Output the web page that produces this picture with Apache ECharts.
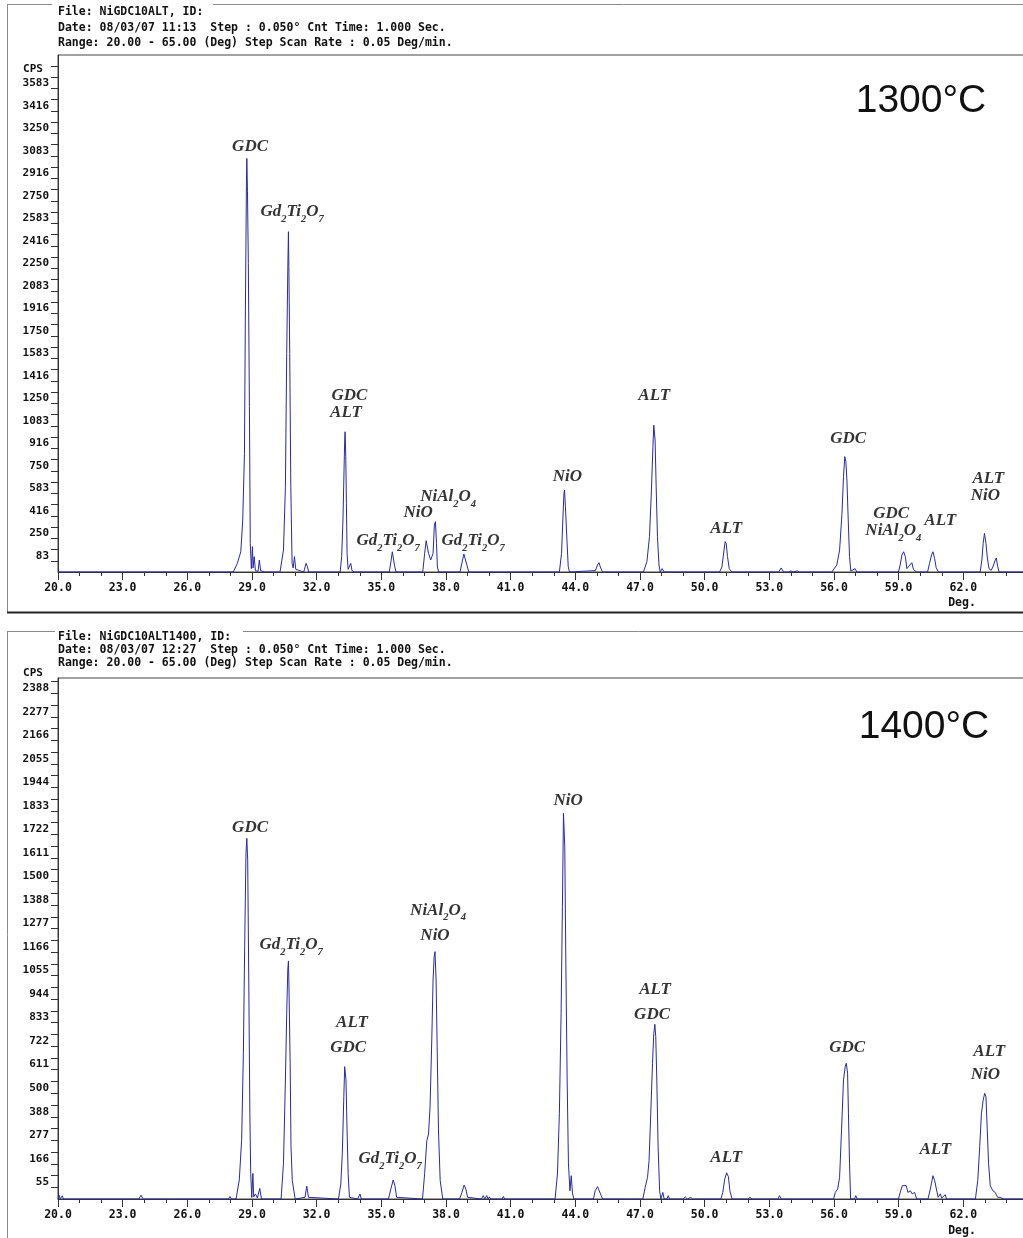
<!DOCTYPE html>
<html><head><meta charset="utf-8">
<script src="https://cdn.jsdelivr.net/npm/echarts@6/dist/echarts.min.js"></script>
<style>html,body{margin:0;padding:0;background:#fff;overflow:hidden}#c{width:1034px;height:1238px}</style>
</head><body><div id="c"></div><script>
// ---------- data ----------
const X_MIN = 20, X_MAX = 65;
const xTicks = [20, 23, 26, 29, 32, 35, 38, 41, 44, 47, 50, 53, 56, 59, 62];
const yTicks1300 = [83, 250, 416, 583, 750, 916, 1083, 1250, 1416, 1583, 1750, 1916, 2083, 2250, 2416, 2583, 2750, 2916, 3083, 3250, 3416, 3583];
const yTicks1400 = [55, 166, 277, 388, 500, 611, 722, 833, 944, 1055, 1166, 1277, 1388, 1500, 1611, 1722, 1833, 1944, 2055, 2166, 2277, 2388];
const yMax1300 = 3830, yMax1400 = 2460;

const header1300 = ['File: NiGDC10ALT, ID:', 'Date: 08/03/07 11:13  Step : 0.050\u00b0 Cnt Time: 1.000 Sec.', 'Range: 20.00 - 65.00 (Deg) Step Scan Rate : 0.05 Deg/min.'];
const header1400 = ['File: NiGDC10ALT1400, ID:', 'Date: 08/03/07 12:27  Step : 0.050\u00b0 Cnt Time: 1.000 Sec.', 'Range: 20.00 - 65.00 (Deg) Step Scan Rate : 0.05 Deg/min.'];
const yName = 'CPS', xName = 'Deg.';
const temp1300 = '1300\u00b0C', temp1400 = '1400\u00b0C';

// [2theta (deg), counts (CPS)]
const pattern1300 = [
[20.0,0],[28.13,0],[28.32,64],[28.48,150],[28.57,385],[28.65,879],[28.69,1867],[28.74,2854],[28.76,3064],[28.79,2817],[28.83,2286],[28.88,1225],[28.92,212],[28.97,25],[29.02,188],[29.05,30],[29.10,114],[29.16,10],[29.28,5],[29.34,89],[29.40,10],[29.6,0],
[30.30,0],[30.46,163],[30.55,632],[30.61,1620],[30.66,2237],[30.69,2521],[30.71,2262],[30.75,1620],[30.80,632],[30.86,64],[30.91,30],[30.97,114],[31.03,20],[31.40,0],[31.51,64],[31.57,40],[31.63,0],
[33.09,0],[33.16,114],[33.22,385],[33.27,756],[33.30,978],[33.32,1039],[33.35,854],[33.38,509],[33.41,138],[33.46,20],[33.58,64],[33.64,10],[33.75,0],
[35.37,0],[35.45,82],[35.51,150],[35.54,138],[35.61,50],[35.68,0],
[36.92,0],[37.01,138],[37.08,232],[37.13,225],[37.19,138],[37.29,89],[37.40,138],[37.46,348],[37.51,373],[37.56,212],[37.60,37],[37.66,0],
[38.65,0],[38.75,75],[38.83,133],[38.89,125],[38.97,50],[39.06,0],
[43.26,0],[43.36,138],[43.42,385],[43.47,580],[43.50,607],[43.54,484],[43.61,237],[43.67,40],[43.73,0],
[44.53,7],[44.93,10],[45.03,52],[45.10,69],[45.16,37],[45.26,0],
[47.16,0],[47.32,77],[47.44,262],[47.53,607],[47.60,928],[47.64,1088],[47.66,1101],[47.70,978],[47.75,632],[47.81,262],[47.88,52],[47.94,0],[48.03,25],[48.12,0],
[50.69,0],[50.80,37],[50.87,126],[50.95,225],[51.00,210],[51.06,114],[51.14,25],[51.26,0],
[53.43,0],[53.55,30],[53.66,0],[53.9,0],[54.0,8],[54.1,0],[54.3,8],[54.4,0],
[55.90,0],[56.13,52],[56.26,163],[56.37,434],[56.44,706],[56.50,855],[56.55,818],[56.60,681],[56.66,385],[56.72,114],[56.78,7],[56.98,25],[57.06,0],
[58.99,0],[59.07,52],[59.15,126],[59.23,150],[59.31,114],[59.38,25],[59.47,37],[59.61,69],[59.69,17],[59.77,25],[59.84,0],
[60.34,0],[60.43,62],[60.53,128],[60.59,150],[60.67,99],[60.74,32],[60.85,0],
[62.78,0],[62.86,89],[62.92,212],[62.98,286],[63.05,212],[63.11,111],[63.19,25],[63.29,12],[63.37,37],[63.48,89],[63.53,104],[63.59,42],[63.66,0],[65.0,0]
];

const pattern1400 = [
[20.0,0],[20.05,18],[20.1,0],[20.2,15],[20.25,0],[23.75,0],[23.85,18],[23.95,0],[25.2,0],[25.28,8],[25.35,0],[27.9,0],[27.98,12],[28.05,0],
[28.26,0],[28.41,90],[28.52,279],[28.60,688],[28.66,1191],[28.72,1632],[28.76,1703],[28.80,1600],[28.85,1034],[28.90,405],[28.94,121],[28.99,7],[29.04,121],[29.08,10],[29.16,24],[29.25,5],[29.36,50],[29.44,0],
[30.35,0],[30.46,169],[30.55,562],[30.61,877],[30.66,1081],[30.69,1124],[30.71,1034],[30.77,641],[30.81,247],[30.87,87],[31.0,0],[31.46,8],[31.54,61],[31.62,8],[31.66,0],
[33.01,0],[33.12,71],[33.19,216],[33.26,483],[33.30,625],[33.33,632],[33.36,562],[33.41,326],[33.46,121],[33.52,8],[33.9,0],[34.01,24],[34.07,0],
[35.33,0],[35.44,47],[35.55,90],[35.63,63],[35.71,8],[35.77,0],
[36.91,0],[37.01,121],[37.11,275],[37.19,307],[37.26,436],[37.34,751],[37.40,1034],[37.45,1145],[37.49,1168],[37.54,1034],[37.59,719],[37.65,326],[37.73,87],[37.85,0],
[38.63,0],[38.74,31],[38.84,66],[38.92,47],[39.0,8],[39.08,0],[39.65,0],[39.73,16],[39.8,0],[39.89,16],[39.95,0],[40.01,10],[40.08,0],[40.6,0],[40.66,12],[40.72,0],
[43.06,0],[43.17,118],[43.26,405],[43.34,877],[43.40,1380],[43.45,1821],[43.48,1829],[43.51,1663],[43.56,1113],[43.62,562],[43.68,169],[43.75,39],[43.81,110],[43.87,24],[43.94,0],
[44.84,0],[44.92,39],[45.03,58],[45.10,55],[45.20,16],[45.27,0],[46.45,0],[46.54,8],[46.62,0],[46.7,8],[46.78,0],
[47.13,0],[47.24,55],[47.35,102],[47.42,181],[47.50,405],[47.58,641],[47.64,782],[47.69,825],[47.73,767],[47.78,562],[47.84,247],[47.91,39],[47.97,0],[48.06,31],[48.12,0],[48.25,0],[48.31,16],[48.37,0],
[49.0,0],[49.1,10],[49.2,0],[49.35,8],[49.45,0],
[50.75,0],[50.84,31],[50.93,94],[51.02,124],[51.10,105],[51.17,39],[51.27,0],
[52.0,0],[52.1,8],[52.2,0],[53.4,0],[53.47,16],[53.55,0],[54.2,0],[54.28,8],[54.35,0],
[55.98,0],[56.06,31],[56.17,47],[56.26,102],[56.35,326],[56.44,562],[56.52,625],[56.57,641],[56.63,594],[56.67,405],[56.72,169],[56.77,0],[56.95,0],[57.01,16],[57.08,0],
[58.99,0],[59.07,31],[59.17,63],[59.26,71],[59.35,63],[59.43,31],[59.54,39],[59.63,24],[59.74,31],[59.84,0],
[60.36,0],[60.47,47],[60.59,110],[60.67,87],[60.75,47],[60.83,8],[60.93,24],[61.0,5],[61.16,20],[61.22,0],
[62.56,0],[62.67,87],[62.76,247],[62.84,405],[62.92,467],[62.99,499],[63.05,483],[63.11,326],[63.17,169],[63.25,63],[63.37,39],[63.48,31],[63.59,8],[63.71,8],[63.87,0],[65.0,0]
];

// phase labels: [2theta, CPS at label centre, text] ("_n" = subscript)
const peaks1300 = [
[28.91,3148,'GDC'],[30.86,2667,'Gd_2Ti_2O_7'],[33.52,1304,'GDC'],[33.36,1178,'ALT'],[35.31,230,'Gd_2Ti_2O_7'],
[36.71,437,'NiO'],[38.10,555,'NiAl_2O_4'],[39.26,230,'Gd_2Ti_2O_7'],[43.63,704,'NiO'],
[47.66,1304,'ALT'],[51.00,318,'ALT'],[56.66,985,'GDC'],[58.65,430,'GDC'],[58.75,304,'NiAl_2O_4'],
[60.93,378,'ALT'],[63.16,689,'ALT'],[63.02,563,'NiO']
];
const peaks1400 = [
[28.91,1754,'GDC'],[30.81,1200,'Gd_2Ti_2O_7'],[33.64,831,'ALT'],[33.46,713,'GDC'],[35.41,189,'Gd_2Ti_2O_7'],
[37.63,1364,'NiAl_2O_4'],[37.49,1242,'NiO'],[43.67,1879,'NiO'],[47.70,987,'ALT'],[47.56,869,'GDC'],[51.00,196,'ALT'],
[56.61,713,'GDC'],[60.70,231,'ALT'],[63.20,694,'ALT'],[63.02,585,'NiO']
];

// ---------- helpers ----------
const MONO = '"DejaVu Sans Mono", "Liberation Mono", monospace';
const SERIF = '"Liberation Serif", "DejaVu Serif", serif';
const LINE = '#2a2aa6';
const AX = '#333';
const W = 1034;

function halfTicks(labels, max) {
  const step = (labels[labels.length - 1] - labels[0]) / (labels.length - 1);
  const h = step / 2, base = labels[0] - h, out = [];
  for (let k = 1; base + k * h <= max + 1e-6; k++) out.push(base + k * h);
  return out;
}
function minorX() {
  const step = (xTicks[1] - xTicks[0]) / 3, out = [];
  for (let k = 0; X_MIN + k * step <= X_MAX + 1e-6; k++) out.push(X_MIN + k * step);
  return out;
}
function fmtLabel(s) { return s.replace(/_(\d)/g, '{s|$1}'); }

function xAxesFor(g) {
  return [
    { type: 'value', gridIndex: g, min: X_MIN, max: X_MAX, position: 'bottom',
      axisLine: { show: true, onZero: false, lineStyle: { color: AX, width: 1 } },
      axisTick: { show: true, customValues: minorX(), length: 4, lineStyle: { color: AX } },
      axisLabel: { show: false }, splitLine: { show: false } },
    { type: 'value', gridIndex: g, min: X_MIN, max: X_MAX, position: 'bottom',
      axisLine: { show: false, onZero: false },
      axisTick: { show: true, customValues: xTicks, length: 8, lineStyle: { color: AX } },
      axisLabel: { show: true, customValues: xTicks, formatter: v => Number(v).toFixed(1), margin: 10,
        fontFamily: MONO, fontWeight: 'bold', fontSize: 11.5, color: '#111' },
      splitLine: { show: false } }
  ];
}
function yAxisFor(g, labels, max) {
  return { type: 'value', gridIndex: g, min: 0, max: max,
    axisLine: { show: true, lineStyle: { color: AX } },
    axisTick: { show: true, customValues: halfTicks(labels, max), length: 7, lineStyle: { color: AX } },
    axisLabel: { show: true, customValues: labels, formatter: v => String(v), margin: 9,
      verticalAlign: 'bottom', lineHeight: 10, fontFamily: MONO, fontWeight: 'bold', fontSize: 11, color: '#111' },
    splitLine: { show: false } };
}
function labelSeries(xi, yi, peaks) {
  return { type: 'scatter', xAxisIndex: xi, yAxisIndex: yi, symbolSize: 1, silent: true,
    itemStyle: { color: 'rgba(0,0,0,0)' },
    data: peaks.map(p => ({ value: [p[0], p[1]], name: p[2] })),
    label: { show: true, position: 'inside', formatter: p => fmtLabel(p.name),
      fontFamily: SERIF, fontStyle: 'italic', fontWeight: 'bold', fontSize: 17, color: '#000',
      lineHeight: 25, align: 'center',
      rich: { s: { fontFamily: SERIF, fontStyle: 'italic', fontWeight: 'bold', fontSize: 10.5, color: '#000',
        lineHeight: 13, verticalAlign: 'bottom' } } },
    labelLayout: { hideOverlap: false } };
}
function txt(x, y, s, opts) {
  return Object.assign({ type: 'text', x: x, y: y, silent: true,
    style: Object.assign({ text: s, fill: '#111', fontFamily: MONO, fontWeight: 'bold', fontSize: 11.5,
      textAlign: 'left', textVerticalAlign: 'middle', align: 'left', verticalAlign: 'middle' }, opts || {}) });
}
function ln(x1, y1, x2, y2, c, w) {
  return { type: 'line', silent: true, shape: { x1, y1, x2, y2 }, style: { stroke: c, lineWidth: w } };
}

const graphics = [
  ln(7, 4.5, 52, 4.5, '#8a8a8a', 1), ln(213, 4.5, W, 4.5, '#8a8a8a', 1), ln(7.5, 4, 7.5, 612, '#8a8a8a', 1),
  ln(7, 612.5, W, 612.5, '#222', 2),
  ln(7, 631.5, 55, 631.5, '#8a8a8a', 1), ln(243, 631.5, W, 631.5, '#8a8a8a', 1), ln(7.5, 631, 7.5, 1238, '#8a8a8a', 1),
  txt(58, 12.5, header1300[0]), txt(58, 28, header1300[1]), txt(58, 43.5, header1300[2]),
  txt(58, 637.5, header1400[0]), txt(58, 650.5, header1400[1]), txt(58, 663, header1400[2]),
  txt(33, 69, yName, { fontSize: 11, textAlign: 'center', align: 'center' }),
  txt(33, 673, yName, { fontSize: 11, textAlign: 'center', align: 'center' }),
  txt(962, 603.5, xName, { textAlign: 'center', align: 'center' }),
  txt(962, 1231, xName, { textAlign: 'center', align: 'center' }),
  txt(921, 101, temp1300, { fontFamily: '"Liberation Sans", Arial, sans-serif', fontWeight: 'normal', fontSize: 39, fill: '#111', textAlign: 'center', align: 'center' }),
  txt(924, 727, temp1400, { fontFamily: '"Liberation Sans", Arial, sans-serif', fontWeight: 'normal', fontSize: 39, fill: '#111', textAlign: 'center', align: 'center' })
];

const option = {
  animation: false,
  backgroundColor: '#fff',
  grid: [
    { left: 58, top: 55, width: 970, height: 517, show: true, borderColor: '#444', borderWidth: 1, backgroundColor: 'transparent' },
    { left: 58, top: 678, width: 970, height: 521, show: true, borderColor: '#444', borderWidth: 1, backgroundColor: 'transparent' }
  ],
  xAxis: [...xAxesFor(0), ...xAxesFor(1)],
  yAxis: [yAxisFor(0, yTicks1300, yMax1300), yAxisFor(1, yTicks1400, yMax1400)],
  series: [
    { type: 'line', name: '1300', xAxisIndex: 0, yAxisIndex: 0, data: pattern1300, showSymbol: false, symbol: 'none',
      lineStyle: { color: LINE, width: 1 }, silent: true, clip: true },
    { type: 'line', name: '1400', xAxisIndex: 2, yAxisIndex: 1, data: pattern1400, showSymbol: false, symbol: 'none',
      lineStyle: { color: LINE, width: 1 }, silent: true, clip: true },
    labelSeries(0, 0, peaks1300),
    labelSeries(2, 1, peaks1400)
  ],
  graphic: { elements: graphics }
};
const chart = echarts.init(document.getElementById('c'), null, { renderer: 'canvas', width: W, height: 1238 });
chart.setOption(option);
</script></body></html>
